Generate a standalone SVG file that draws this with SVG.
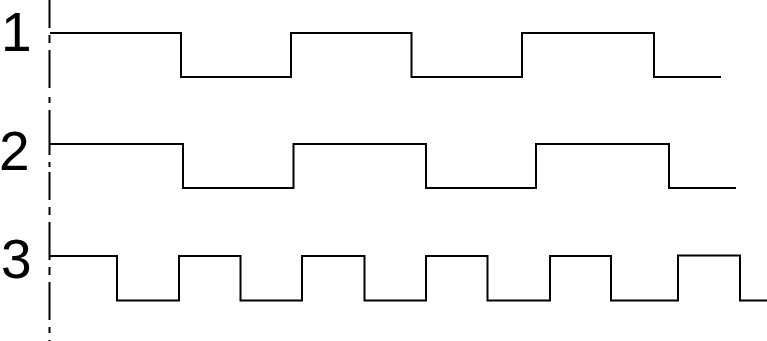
<svg xmlns="http://www.w3.org/2000/svg" width="767" height="341" viewBox="0 0 767 341">
<style>
.w{fill:none;stroke:#000;stroke-width:2;stroke-linejoin:miter;stroke-linecap:butt}
.lbl{font-family:"Liberation Sans",Arial,sans-serif;font-size:55px;fill:#000}
</style>
<rect width="767" height="341" fill="#fff"/>
<g id="axis">
<path class="w" d="M49.5,0V28M49.5,35V43M49.5,50V88M49.5,97V103M49.5,110V155M49.5,162V167M49.5,172V200M49.5,207V215M49.5,222V260M49.5,267V275M49.5,282V320M49.5,327V333M49.5,340V341"/>
</g>
<g id="label1"><text class="lbl" x="1" y="51">1</text></g>
<g id="label2"><text class="lbl" x="-1" y="170">2</text></g>
<g id="label3"><text class="lbl" x="1" y="278">3</text></g>
<g id="wave1"><path class="w" d="M50,33H181V77H291V33H411.5V77H522V33H654V77H721"/></g>
<g id="wave2"><path class="w" d="M50,144H183V188H293.5V144H426V188H536V144H669V188H736"/></g>
<g id="wave3"><path class="w" d="M50,256H117V300.5H179V256H240.5V300.5H302V256H364.5V300.5H426V256H487.5V300.5H550V256H611V300.5H678V255.5H740V300.5H767"/></g>
</svg>
